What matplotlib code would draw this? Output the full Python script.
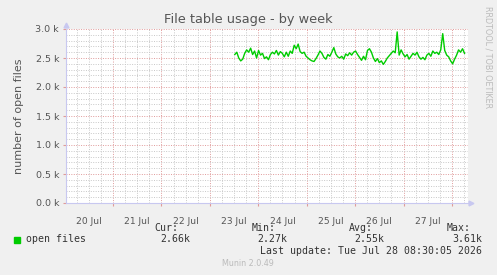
import numpy as np
import matplotlib
matplotlib.use("Agg")
import matplotlib.pyplot as plt
from matplotlib.ticker import MultipleLocator

# days since 20 Jul 00:00
day_labels = ["20 Jul", "21 Jul", "22 Jul", "23 Jul", "24 Jul", "25 Jul", "26 Jul", "27 Jul"]
first_sample = 3.515   # 23 Jul ~12:20
last_sample = 8.258    # 28 Jul ~06:10

# open files, in thousands (roughly hourly samples)
open_files = [
    2.56, 2.60, 2.50, 2.45, 2.48, 2.58, 2.64, 2.60, 2.67, 2.56,
    2.62, 2.50, 2.63, 2.55, 2.58, 2.49, 2.52, 2.47, 2.56, 2.60,
    2.57, 2.63, 2.55, 2.61, 2.58, 2.52, 2.60, 2.53, 2.62, 2.58,
    2.72, 2.66, 2.74, 2.61, 2.58, 2.60, 2.53, 2.50, 2.47, 2.45,
    2.44, 2.49, 2.55, 2.62, 2.58, 2.51, 2.48, 2.56, 2.53, 2.60,
    2.68, 2.57, 2.52, 2.50, 2.53, 2.48, 2.57, 2.54, 2.59, 2.55,
    2.60, 2.62, 2.56, 2.51, 2.46, 2.53, 2.47, 2.63, 2.66, 2.60,
    2.50, 2.44, 2.49, 2.42, 2.45, 2.39, 2.44, 2.50, 2.54, 2.58,
    2.62, 2.59, 2.95, 2.55, 2.64, 2.57, 2.52, 2.56, 2.48, 2.53,
    2.58, 2.55, 2.60, 2.52, 2.48, 2.51, 2.47, 2.55, 2.58, 2.53,
    2.62, 2.58, 2.60, 2.56, 2.64, 2.92, 2.63, 2.55, 2.52, 2.45,
    2.40, 2.48, 2.55, 2.64, 2.60, 2.66, 2.58,
]

stats = {"Cur:": "2.66k", "Min:": "2.27k", "Avg:": "2.55k", "Max:": "3.61k"}
last_update = "Last update: Tue Jul 28 08:30:05 2026"

W, H = 497, 275
BG = "#f0f0f0"
MAJOR = "#e09a9a"
MINOR = "#c8c8c8"
AXIS = "#c8c8f0"
TXT = "#555555"


def fx(x):
    return x / W


def fy(y):
    return 1 - y / H


fig = plt.figure(figsize=(W / 100, H / 100), dpi=100, facecolor=BG)
ax = fig.add_axes([fx(66), fy(203), fx(468) - fx(66), fy(29) - fy(203)])
ax.set_facecolor("white")

t = np.linspace(first_sample, last_sample, len(open_files))
ax.plot(t, open_files, color="#00cc00", lw=1.0, zorder=3)

ax.set_xlim(0.03, 8.33)
ax.set_ylim(0, 3.0)

# grid: minor every 6 h / 0.1k, major every day / 0.5k
ax.xaxis.set_major_locator(MultipleLocator(1))
ax.xaxis.set_minor_locator(MultipleLocator(0.25))
ax.yaxis.set_major_locator(MultipleLocator(0.5))
ax.yaxis.set_minor_locator(MultipleLocator(0.1))
ax.grid(which="minor", color=MINOR, lw=0.7, ls=(0, (1, 1.5)), zorder=1)
ax.grid(which="major", color=MAJOR, lw=0.7, ls=(0, (1, 1.5)), zorder=2)
ax.set_axisbelow(True)

ax.set_xticklabels([])
ax.tick_params(which="both", length=0)
ax.tick_params(axis="x", which="major", length=2, color=MAJOR, direction="out")
ax.tick_params(axis="y", which="major", length=2, color=MAJOR, direction="out")
ax.set_yticklabels([f"{v:.1f} k" for v in ax.get_yticks()], fontsize=6.8, color=TXT)
ax.tick_params(axis="y", pad=3)

# day labels centred at noon
for i, lab in enumerate(day_labels):
    ax.text(i + 0.5, -0.08, lab, transform=ax.get_xaxis_transform(),
            ha="center", va="top", fontsize=6.6, color=TXT)

for s in ["top", "right"]:
    ax.spines[s].set_visible(False)
for s in ["left", "bottom"]:
    ax.spines[s].set_color(AXIS)
    ax.spines[s].set_linewidth(0.8)
ax.plot([0], [1.025], marker="^", color=AXIS, ms=3.5, transform=ax.transAxes, clip_on=False)
ax.plot([1.008], [0], marker=">", color=AXIS, ms=3.5, transform=ax.transAxes, clip_on=False)

ax.set_ylabel("number of open files", fontsize=8, color=TXT, labelpad=8)

fig.text(fx(248), fy(19), "File table usage - by week", ha="center", va="center",
         fontsize=9.3, color="#555555")
fig.text(fx(488), fy(57), "RRDTOOL / TOBI OETIKER", rotation=270, ha="center",
         va="center", fontsize=5.8, color="#bbbbbb")

# legend block
mono = "DejaVu Sans Mono"
fig.patches.append(plt.Rectangle((fx(14), fy(243)), fx(6), fy(237) - fy(243),
                                 transform=fig.transFigure, color="#00cc00"))
fig.text(fx(26), fy(239.5), "open files", fontsize=7.1, family=mono, color="#333333",
         va="center")
head_x = [154, 252, 349, 447]
val_x = [190, 287, 384, 482]
for (k, v), hx, vx in zip(stats.items(), head_x, val_x):
    fig.text(fx(hx), fy(228), k, fontsize=7.1, family=mono, color="#333333", va="center")
    fig.text(fx(vx), fy(239.5), v, fontsize=7.1, family=mono, color="#333333",
             va="center", ha="right")
fig.text(fx(482), fy(251), last_update, fontsize=7.1, family=mono, color="#333333",
         va="center", ha="right")
fig.text(fx(248), fy(264), "Munin 2.0.49", fontsize=5.8, color="#bbbbbb",
         ha="center", va="center")

fig.savefig("out.png", dpi=100, facecolor=BG)
